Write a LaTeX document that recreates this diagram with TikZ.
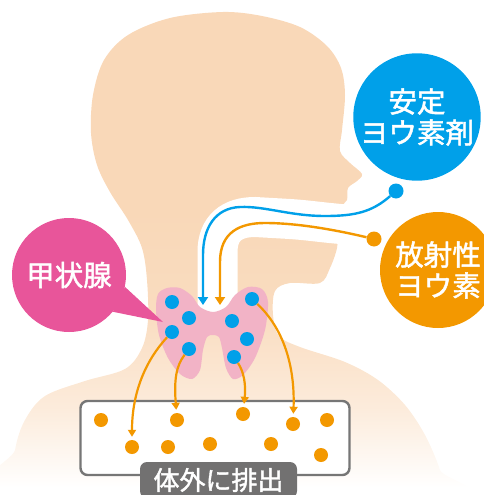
\documentclass[tikz,border=0pt]{standalone}
\usepackage{fontspec}
\newfontfamily\jpfont[FakeBold=1.6]{Noto Sans CJK JP}
\usetikzlibrary{arrows.meta}

\definecolor{skin}{HTML}{F9D8B8}
\definecolor{iodblue}{HTML}{00A0E9}
\definecolor{iodorange}{HTML}{F39800}
\definecolor{glandpink}{HTML}{F2B3C6}
\definecolor{bubblepink}{HTML}{E8559A}
\definecolor{labelgray}{HTML}{727171}
\definecolor{boxgray}{HTML}{767676}

% skin colour, fading out towards the bottom
\pgfdeclareverticalshading{skinfade}{100bp}{color(0bp)=(white); color(27bp)=(white);
    color(35bp)=(skin!50); color(45bp)=(skin!90); color(55bp)=(skin); color(100bp)=(skin)}

\begin{document}
\begin{tikzpicture}[x=1pt, y=-1pt,
    bubble/.style={circle, inner sep=0pt, text=white, align=center,
        font=\jpfont\fontsize{28.5}{31}\selectfont},
    iodine/.style={circle, fill=iodblue, minimum size=14pt, inner sep=0pt},
    waste/.style={circle, fill=iodorange, minimum size=14pt, inner sep=0pt},
    flow/.style={line width=2.4pt, -{Triangle[width=10pt,length=8pt]}},
    excrete/.style={draw=iodorange, line width=2.2pt,
        -{Triangle[width=8pt,length=7pt]}, shorten >=3pt}]

\useasboundingbox (0,0) rectangle (484,495);

% Head, neck & shoulders
\shade[shading=skinfade] plot[smooth cycle, tension=0.55] coordinates {
    (223,12) (262,16) (300,27) (327,46) (341,68) (345,95) (342,130) (340,151)
    (350,163) (362,174) (357,181) (348,188) (347,200) (341,208) (338,230)
    (337,248) (330,268) (320,283) (290,283) (275,291) (273,315) (279,336)
    (300,347) (345,362) (378,380) (405,405) (425,435) (440,470) (446,500)
    (10,500) (15,450) (25,420) (45,396) (85,381) (125,369) (142,348)
    (148,320) (147,280) (142,248) (128,220) (110,192) (97,165) (91,133)
    (93,95) (104,60) (128,35) (170,18)};

% Airway
\draw[white, line width=40pt] (217.5,320) -- (217.5,252)
    .. controls (217.5,228) and (232,217) .. (255,217)
    -- (290,219) .. controls (320,221) and (340,226) .. (390,226);

% Thyroid
\fill[glandpink] plot[smooth cycle, tension=0.5] coordinates {
    (167,288) (180,288) (192,296) (200,307) (213,312) (226,307) (235,295)
    (248,287) (262,289) (268,302) (265,330) (255,358) (243,375) (233,379)
    (226,368) (222,348) (219,337) (213,335) (207,337) (203,350) (200,370)
    (192,379) (180,374) (168,358) (159,335) (156,310) (158,294)};

% Iodine in the gland
\node[iodine] (g1) at (172,302) {};
\node[iodine] (g2) at (189,318) {};
\node[iodine] (g3) at (172,332) {};
\node[iodine] (g4) at (189,349) {};
\node[iodine] (g5) at (232,321) {};
\node[iodine] (g6) at (247,339) {};
\node[iodine] (g7) at (234,357) {};
\node[iodine] (g8) at (252,299) {};

% Bubbles
\node[  bubble,
        fill=iodblue,
        minimum size=127pt
    ] (stable) at (417,117) {安定\\ヨウ素剤};
\node[  bubble,
        fill=iodorange,
        minimum size=116pt
    ] (radio) at (438,270) {放射性\\ヨウ素};
\node[  bubble,
        fill=bubblepink,
        minimum size=114pt
    ] (gland) at (69,275) {甲状腺};
\coordinate (glandtip) at (163,322);
\fill[bubblepink] (gland.-12) -- (glandtip) -- (gland.-40) -- cycle;

% Intake
\node[iodine, minimum size=15pt] (sdot) at (396,191) {};
\node[waste, minimum size=15pt] (rdot) at (374,239) {};
\coordinate (stip) at (203,305);
\coordinate (rtip) at (220,305);
\draw[flow, iodblue] (sdot) .. controls (372,212) and (355,216) .. (325,216)
    .. controls (290,216) and (265,206) .. (240,207)
    .. controls (215,208) and (203,228) .. (203,255) -- (stip);
\draw[flow, iodorange] (rdot) .. controls (340,231) and (300,223) .. (265,223)
    .. controls (240,223) and (220,232) .. (220,262) -- (rtip);

% Excretion box
\node[  draw=boxgray,
        line width=2.4pt,
        rounded corners=7pt,
        fill=white,
        minimum width=269pt,
        minimum height=74pt
    ] (bin) at (215,438) {};
\node[waste] (w1) at (101,420) {};
\node[waste] (w2) at (177,420) {};
\node[waste] (w3) at (243,414) {};
\node[waste] (w4) at (293,424) {};
\node[waste] (w5) at (327,420) {};
\node[waste] (w6) at (132,447) {};
\node[waste] (w7) at (168,447) {};
\node[waste] (w8) at (210,444) {};
\node[waste] (w9) at (271,444) {};
\node[waste] (w10) at (321,455) {};
\node[  fill=labelgray,
        rounded corners=7pt,
        text=white,
        font=\jpfont\fontsize{26}{26}\selectfont,
        minimum width=157pt,
        minimum height=36pt,
        inner sep=0pt
    ] (out) at (218.5,480) {体外に排出};

% Arcs
\draw[excrete] (g3) .. controls (146,360) and (132,392) .. (w6);
\draw[excrete] (g4) .. controls (176,366) and (174,380) .. (w2);
\draw[excrete] (g7) .. controls (244,372) and (246,385) .. (w3);
\draw[excrete] (g8) .. controls (283,328) and (295,365) .. (w4);

\end{tikzpicture}
\end{document}
